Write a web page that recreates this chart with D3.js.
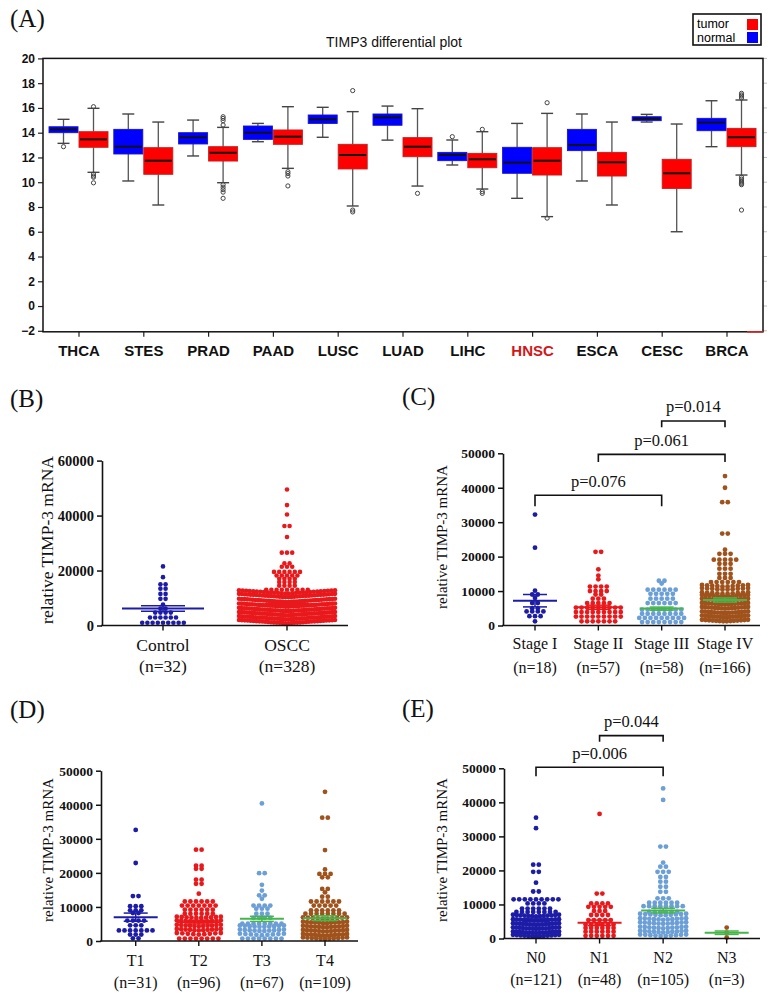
<!DOCTYPE html>
<html><head><meta charset="utf-8">
<script src="https://cdnjs.cloudflare.com/ajax/libs/d3/7.8.5/d3.min.js"></script>
<style>body{margin:0;background:#fff} svg{display:block}</style>
</head><body><svg id="c" width="772" height="998"></svg>
<script>
// ---------------- DATA ----------------
// Panel A: TIMP3 expression boxplots (log2 scale)
const aCats = ["THCA","STES","PRAD","PAAD","LUSC","LUAD","LIHC","HNSC","ESCA","CESC","BRCA"];
const aTicks = [-2,0,2,4,6,8,10,12,14,16,18,20];
const normalLo  = [13.14,10.1,12.12,13.27,13.63,13.4,11.39,8.7,10.1,14.86,12.87];
const normalQ1  = [14.0,12.28,13.09,13.46,14.75,14.6,11.74,10.72,12.55,14.97,14.16];
const normalMed = [14.27,12.87,13.63,14.0,15.08,15.24,12.2,11.58,13.0,15.13,14.81];
const normalQ3  = [14.48,14.27,14.0,14.54,15.43,15.51,12.41,12.82,14.27,15.29,15.16];
const normalHi  = [15.08,15.51,15.02,14.75,16.05,16.15,13.41,14.75,15.51,15.48,16.58];
const normalOut = [[12.87],[],[],[],[],[],[13.68],[],[],[],[]];
const tumorLo  = [10.8,8.16,9.96,11.12,8.08,9.69,9.45,7.22,8.16,6.0,10.58];
const tumorQ1  = [12.82,10.64,11.71,13.06,11.07,12.06,11.17,10.58,10.5,9.5,12.87];
const tumorMed = [13.46,11.74,12.38,13.68,12.2,12.87,11.85,11.74,11.61,10.72,13.63];
const tumorQ3  = [14.08,12.79,12.87,14.22,13.06,13.6,12.33,12.79,12.41,11.85,14.35];
const tumorHi  = [15.97,14.86,14.43,16.1,15.7,15.94,14.08,15.56,14.86,14.7,16.64];
const tumorOut = [[16.1,10.65,10.5,10.4,9.95],[],[15.29,15.15,14.97,14.62,9.8,9.6,9.4,9.2,8.7],
  [10.85,10.7,10.5,9.7],[17.4,7.75,7.6],[9.1],[14.27,9.25,9.1],[16.42,7.1],[],[],
  [16.8,16.95,17.05,17.18,10.4,10.25,10.1,10.0,9.9,9.8,7.75]];

// Panels B-E: relative TIMP-3 mRNA (x1000), rows of the dot plot: [value, number of dots]
const bCats = ["Control","OSCC"];
const bN = [32,328];
const bTicks = [0,20,40,60];
const bControl = [[21.5,1],[17.6,1],[15,2],[13.4,2],[11.5,2],[9.7,2],[7.6,1],[6.2,2],[4.7,4],[2.9,6],[1.0,9]];
const bOscc = [[49.5,1],[43.8,1],[40.4,1],[36.2,2],[32.2,1],[26.5,3],[22.6,2],[21.4,3],[19.5,6],[18.2,5],[17,4],
  [15.8,4],[14.5,4],[13,9],[11.6,28],[10.3,34],[8.5,36],[6.8,38],[5.2,38],[3.7,38],[2.2,36],[0.8,34]];
const bMeans = [6.2,7.5];
const bSem = [1.0,0.4];

const cCats = ["Stage I","Stage II","Stage III","Stage IV"];
const cN = [18,57,58,166];
const cTicks = [0,10,20,30,40,50];
const cStage1 = [[32.2,1],[22.6,1],[10.1,1],[9.0,2],[8.0,1],[6.5,2],[5.0,2],[4.1,4],[2.7,3],[1.2,1]];
const cStage2 = [[21.4,2],[16.3,1],[14.5,1],[13.4,1],[11.3,4],[10.0,4],[9.0,2],[7.8,3],[6.5,5],[5.2,9],[3.9,9],[2.6,9],[1.2,7]];
const cStage3 = [[13.0,2],[12.2,1],[10.4,6],[9.2,5],[7.8,5],[6.5,6],[4.6,8],[3.4,8],[2.2,9],[1.0,8]];
const cStage4 = [[43.4,1],[40.0,1],[35.8,2],[26.7,2],[22.0,1],[20.8,3],[19.1,5],[17.9,3],[16.5,3],[15.0,3],[13.8,3],
  [12.6,6],[11.3,10],[10.4,10],[9.2,10],[8.4,13],[7.3,14],[6.1,15],[4.9,15],[3.6,16],[2.4,16],[1.2,14]];
const cMeans = [7.2,5.3,4.9,7.4];
const cSem = [1.8,0.6,0.45,0.6];
const cTests = [["Stage I","Stage III","p=0.076"],["Stage II","Stage IV","p=0.061"],["Stage III","Stage IV","p=0.014"]];

const dCats = ["T1","T2","T3","T4"];
const dN = [31,96,67,109];
const dTicks = [0,10,20,30,40,50];
const dT1 = [[32.6,1],[22.9,1],[13.2,2],[10.2,3],[9.0,3],[8.2,2],[6.0,4],[4.6,3],[3.1,7],[1.9,3],[0.8,2]];
const dT2 = [[26.8,2],[22.1,2],[21.2,2],[18.0,2],[16.8,2],[13.9,1],[11.6,6],[10.4,7],[9.2,6],[8.0,6],[6.7,10],[5.6,11],[4.3,11],[3.1,11],[1.9,9],[0.7,8]];
const dT3 = [[40.4,1],[19.9,2],[16.5,1],[14.8,1],[13.4,2],[12.4,1],[10.4,4],[9.5,3],[8.0,3],[6.8,4],[5.1,8],[4.1,10],[2.9,10],[1.7,9],[0.7,8]];
const dT4 = [[43.8,1],[36.2,2],[26.7,1],[21.0,1],[19.7,3],[18.7,2],[15.3,2],[14.3,1],[13.0,2],[11.6,6],[10.4,5],[9.0,6],[8.0,8],[6.5,10],[5.2,12],[4.0,12],[2.8,12],[1.6,12],[0.6,11]];
const dMeans = [7.0,5.5,6.5,6.7];
const dSem = [1.2,0.5,0.75,0.7];

const eCats = ["N0","N1","N2","N3"];
const eN = [121,48,105,3];
const eTicks = [0,10,20,30,40,50];
const eN0 = [[35.5,1],[32.4,1],[21.7,2],[19.6,2],[16.4,1],[13.8,2],[11.5,9],[10.3,4],[8.8,6],[7.8,8],[6.5,13],[5.2,14],[4.0,15],[2.8,15],[1.6,15],[0.6,13]];
const eN1 = [[36.6,1],[13.2,2],[10.3,4],[9.3,5],[8.1,3],[6.9,4],[5.4,5],[4.1,6],[3.1,6],[2.0,6],[0.8,6]];
const eN2 = [[44.1,1],[40.7,1],[27.0,2],[22.3,1],[21.1,2],[19.6,3],[18.1,2],[16.7,2],[15.2,2],[13.7,2],[11.8,3],[10.5,6],[9.5,8],[7.8,6],[6.8,10],[5.5,11],[4.3,11],[3.0,11],[1.8,11],[0.7,10]];
const eN3 = [[3.2,1],[1.7,1],[0.3,1]];
const eMeans = [5.5,4.6,8.2,1.7];
const eSem = [0.5,0.8,0.7,0.5];
const eTests = [["N0","N2","p=0.006"],["N1","N2","p=0.044"]];

// ---------------- STYLE ----------------
const serif = "'Liberation Serif','Times New Roman',serif";
const sans = "'Liberation Sans',Arial,sans-serif";
const BLUE = "#1c1ca6", RED = "#e8191c", LBLUE = "#6b9fd6", BROWN = "#a0521c", GREEN = "#45b649";
const svg = d3.select("#c");

function panelLabel(t, x, y) {
  svg.append("text").attr("x", x).attr("y", y).attr("font-family", serif)
    .attr("font-size", 25).attr("fill", "#111").text(t);
}

// ---------------- PANEL A ----------------
(function () {
  const g = svg.append("g");
  const x = d3.scalePoint(aCats, [79, 727]);
  const y = d3.scaleLinear([-2, 20], [330.8, 58.4]);
  const L = 43, R = 763, T = y(20), B = y(-2) + 1;
  panelLabel("(A)", 10, 27);
  g.append("text").attr("x", 394).attr("y", 47).attr("text-anchor", "middle")
    .attr("font-family", sans).attr("font-size", 14).attr("fill", "#111").text("TIMP3 differential plot");
  // legend
  const lg = g.append("g");
  lg.append("rect").attr("x", 693).attr("y", 14).attr("width", 68).attr("height", 31)
    .attr("fill", "#fff").attr("stroke", "#111").attr("stroke-width", 1.6);
  lg.append("text").attr("x", 697).attr("y", 27.5).attr("font-family", sans).attr("font-size", 12.5).text("tumor");
  lg.append("text").attr("x", 697).attr("y", 41.5).attr("font-family", sans).attr("font-size", 12.5).text("normal");
  lg.append("rect").attr("x", 747).attr("y", 19).attr("width", 11).attr("height", 11).attr("fill", "#ff0000");
  lg.append("rect").attr("x", 747).attr("y", 32).attr("width", 11).attr("height", 11).attr("fill", "#0000ff");

  // y axis
  const ya = g.append("g").attr("transform", `translate(${L},0)`)
    .call(d3.axisLeft(y).tickValues(aTicks).tickSize(5).tickSizeOuter(0));
  ya.select(".domain").remove();
  ya.selectAll("line").attr("stroke", "#222").attr("stroke-width", 1.2);
  ya.selectAll("text").attr("font-family", sans).attr("font-weight", "bold").attr("font-size", 12).attr("fill", "#111");
  // right-side faint ticks
  g.selectAll(".rt").data(aTicks).join("line").attr("x1", R).attr("x2", R + 4)
    .attr("y1", d => y(d)).attr("y2", d => y(d)).attr("stroke", "#bbb").attr("stroke-width", 1);
  // x axis ticks & labels
  g.selectAll(".xt").data(aCats).join("line").attr("x1", d => x(d)).attr("x2", d => x(d))
    .attr("y1", B).attr("y2", B + 5).attr("stroke", "#222").attr("stroke-width", 1.2);
  g.selectAll(".xl").data(aCats).join("text").attr("x", d => x(d)).attr("y", 356).attr("text-anchor", "middle")
    .attr("font-family", sans).attr("font-weight", "bold").attr("font-size", 15)
    .attr("fill", d => d === "HNSC" ? "#d01818" : "#111").text(d => d);

  const bw = 29;
  function drawBoxes(lo, q1, med, q3, hi, out, fill, stroke, off) {
    aCats.forEach((c, i) => {
      const x0 = x(c) + off, cx = x0 + bw / 2;
      const bg = g.append("g");
      bg.append("line").attr("x1", cx).attr("x2", cx).attr("y1", y(hi[i])).attr("y2", y(q3[i])).attr("stroke", "#555").attr("stroke-width", 1.3);
      bg.append("line").attr("x1", cx).attr("x2", cx).attr("y1", y(q1[i])).attr("y2", y(lo[i])).attr("stroke", "#555").attr("stroke-width", 1.3);
      [hi[i], lo[i]].forEach(v => bg.append("line").attr("x1", cx - 6).attr("x2", cx + 6).attr("y1", y(v)).attr("y2", y(v)).attr("stroke", "#444").attr("stroke-width", 1.4));
      bg.append("rect").attr("x", x0).attr("y", y(q3[i])).attr("width", bw).attr("height", y(q1[i]) - y(q3[i]))
        .attr("fill", fill).attr("stroke", stroke).attr("stroke-width", 0.9);
      bg.append("line").attr("x1", x0 + 1).attr("x2", x0 + bw - 1).attr("y1", y(med[i])).attr("y2", y(med[i])).attr("stroke", "#111").attr("stroke-width", 2);
      out[i].forEach(v => bg.append("circle").attr("cx", cx).attr("cy", y(v)).attr("r", 2.1)
        .attr("fill", "none").attr("stroke", "#444").attr("stroke-width", 1));
    });
  }
  drawBoxes(normalLo, normalQ1, normalMed, normalQ3, normalHi, normalOut, "#0000ff", "#1414c8", -bw - 1);
  drawBoxes(tumorLo, tumorQ1, tumorMed, tumorQ3, tumorHi, tumorOut, "#ff0000", "#c81c1c", 0);
  g.append("rect").attr("x", L).attr("y", T).attr("width", R - L).attr("height", B - T)
    .attr("fill", "none").attr("stroke", "#111").attr("stroke-width", 1.5);
  g.append("line").attr("x1", 747).attr("x2", R).attr("y1", B).attr("y2", B).attr("stroke", "#e02020").attr("stroke-width", 1.5);
})();

// ---------------- DOT PLOT PANELS ----------------
function dotPanel(p) {
  const g = svg.append("g");
  const y = d3.scaleLinear([0, p.yMax], [p.y0, p.yTop]);
  const x = d3.scalePoint(p.cats, [p.xFirst, p.xLast]);
  panelLabel(p.label, p.labelX, p.labelY);
  // y label
  g.append("text").attr("transform", `translate(${p.yLabX},${p.yLabY}) rotate(-90)`)
    .attr("text-anchor", "middle").attr("font-family", serif).attr("font-size", p.yLabFs)
    .attr("fill", "#111").text("relative TIMP-3 mRNA");
  // dots
  p.groups.forEach((rows, gi) => {
    const cx = x(p.cats[gi]);
    const pts = [];
    rows.forEach(([v, n]) => {
      const sp = n > 1 ? Math.min(p.sp, p.maxW / (n - 1)) : 0;
      const comp = n > 1 && p.sp > p.maxW / (n - 1);
      for (let j = 0; j < n; j++) {
        const dx = (j - (n - 1) / 2) * sp;
        pts.push([cx + dx, y(v) - (comp ? Math.abs(dx) * 0.07 : 0)]);
      }
    });
    g.append("g").selectAll("circle").data(pts).join("circle")
      .attr("cx", d => d[0]).attr("cy", d => d[1]).attr("r", p.r).attr("fill", p.colors[gi]);
  });
  // mean +/- SEM
  p.means.forEach((m, gi) => {
    const cx = x(p.cats[gi]), col = p.lineColors[gi];
    g.append("line").attr("x1", cx - p.meanHalf).attr("x2", cx + p.meanHalf).attr("y1", y(m)).attr("y2", y(m))
      .attr("stroke", col).attr("stroke-width", 2);
    const s = p.sems[gi];
    g.append("line").attr("x1", cx).attr("x2", cx).attr("y1", y(m - s)).attr("y2", y(m + s)).attr("stroke", col).attr("stroke-width", 1.5);
    [m - s, m + s].forEach(v => g.append("line").attr("x1", cx - p.capHalf).attr("x2", cx + p.capHalf)
      .attr("y1", y(v)).attr("y2", y(v)).attr("stroke", col).attr("stroke-width", 1.5));
  });
  // axes
  const ya = g.append("g").attr("transform", `translate(${p.axisX},0)`)
    .call(d3.axisLeft(y).tickValues(p.ticks).tickSize(5).tickSizeOuter(0).tickPadding(3).tickFormat(d => String(d * 1000)));
  ya.select(".domain").attr("stroke", "#111").attr("stroke-width", 1.6);
  ya.selectAll(".tick line").attr("stroke", "#111").attr("stroke-width", 1.5);
  ya.selectAll("text").attr("font-family", serif).attr("font-weight", "bold").attr("font-size", p.tickFs).attr("fill", "#111");
  g.append("line").attr("x1", p.axisX - 0.8).attr("x2", p.xEnd).attr("y1", p.y0).attr("y2", p.y0)
    .attr("stroke", "#111").attr("stroke-width", 1.6);
  g.selectAll(".xt").data(p.cats).join("line").attr("x1", d => x(d)).attr("x2", d => x(d))
    .attr("y1", p.y0).attr("y2", p.y0 + 5).attr("stroke", "#111").attr("stroke-width", 1.4);
  g.selectAll(".c1").data(p.cats).join("text").attr("x", d => x(d)).attr("y", p.cat1Y)
    .attr("text-anchor", "middle").attr("font-family", serif).attr("font-size", p.catFs).attr("fill", "#111").text(d => d);
  g.selectAll(".c2").data(p.cats).join("text").attr("x", d => x(d)).attr("y", p.cat2Y)
    .attr("text-anchor", "middle").attr("font-family", serif).attr("font-size", p.catFs).attr("fill", "#111")
    .text((d, i) => `(n=${p.ns[i]})`);
  // significance brackets
  (p.tests || []).forEach(([a, b, t], k) => {
    const [barV, legV] = p.brk[k];
    const xa = x(a), xb = x(b), yb = y(barV), yl = y(legV);
    g.append("path").attr("d", `M${xa},${yl}V${yb}H${xb}V${yl}`).attr("fill", "none")
      .attr("stroke", "#111").attr("stroke-width", 1.6);
    g.append("text").attr("x", (xa + xb) / 2).attr("y", yb - 8.5).attr("text-anchor", "middle")
      .attr("font-family", serif).attr("font-size", 16.5).attr("fill", "#111").text(t);
  });
}

dotPanel({
  label: "(B)", labelX: 10, labelY: 407, cats: bCats, ns: bN, ticks: bTicks, yMax: 60,
  y0: 625.5, yTop: 460.6, xFirst: 163, xLast: 287, axisX: 102, xEnd: 348,
  groups: [bControl, bOscc], colors: [BLUE, RED], lineColors: [BLUE, RED],
  means: bMeans, sems: bSem, meanHalf: 41, capHalf: 22,
  r: 2.3, sp: 5.2, maxW: 96, tickFs: 14.5, catFs: 17.5, cat1Y: 651, cat2Y: 672,
  yLabX: 53, yLabY: 540, yLabFs: 17.5
});
dotPanel({
  label: "(C)", labelX: 402, labelY: 405, cats: cCats, ns: cN, ticks: cTicks, yMax: 50,
  y0: 625.5, yTop: 453.3, xFirst: 535, xLast: 725, axisX: 503, xEnd: 760,
  groups: [cStage1, cStage2, cStage3, cStage4], colors: [BLUE, RED, LBLUE, BROWN], lineColors: [BLUE, RED, GREEN, GREEN],
  means: cMeans, sems: cSem, meanHalf: 22, capHalf: 12,
  r: 2.4, sp: 5.6, maxW: 46, tickFs: 13.5, catFs: 16, cat1Y: 649, cat2Y: 673,
  yLabX: 447, yLabY: 537, yLabFs: 15,
  tests: cTests, brk: [[37.8, 34.6], [49.7, 47.5], [59.4, 57.6]]
});
dotPanel({
  label: "(D)", labelX: 10, labelY: 718, cats: dCats, ns: dN, ticks: dTicks, yMax: 50,
  y0: 941, yTop: 770.7, xFirst: 135.7, xLast: 325, axisX: 101, xEnd: 358,
  groups: [dT1, dT2, dT3, dT4], colors: [BLUE, RED, LBLUE, BROWN], lineColors: [BLUE, RED, GREEN, GREEN],
  means: dMeans, sems: dSem, meanHalf: 22, capHalf: 12,
  r: 2.4, sp: 5.6, maxW: 44, tickFs: 13.5, catFs: 16, cat1Y: 966, cat2Y: 988,
  yLabX: 53, yLabY: 850, yLabFs: 15
});
dotPanel({
  label: "(E)", labelX: 402, labelY: 717, cats: eCats, ns: eN, ticks: eTicks, yMax: 50,
  y0: 938.5, yTop: 768.3, xFirst: 536, xLast: 726.7, axisX: 504, xEnd: 760,
  groups: [eN0, eN1, eN2, eN3], colors: [BLUE, RED, LBLUE, BROWN], lineColors: [BLUE, RED, GREEN, GREEN],
  means: eMeans, sems: eSem, meanHalf: 22, capHalf: 12,
  r: 2.4, sp: 5.6, maxW: 46, tickFs: 13.5, catFs: 16, cat1Y: 962.5, cat2Y: 985,
  yLabX: 447, yLabY: 850, yLabFs: 15,
  tests: eTests, brk: [[50.3, 47.7], [59.6, 57.8]]
});
</script>
</body></html>
